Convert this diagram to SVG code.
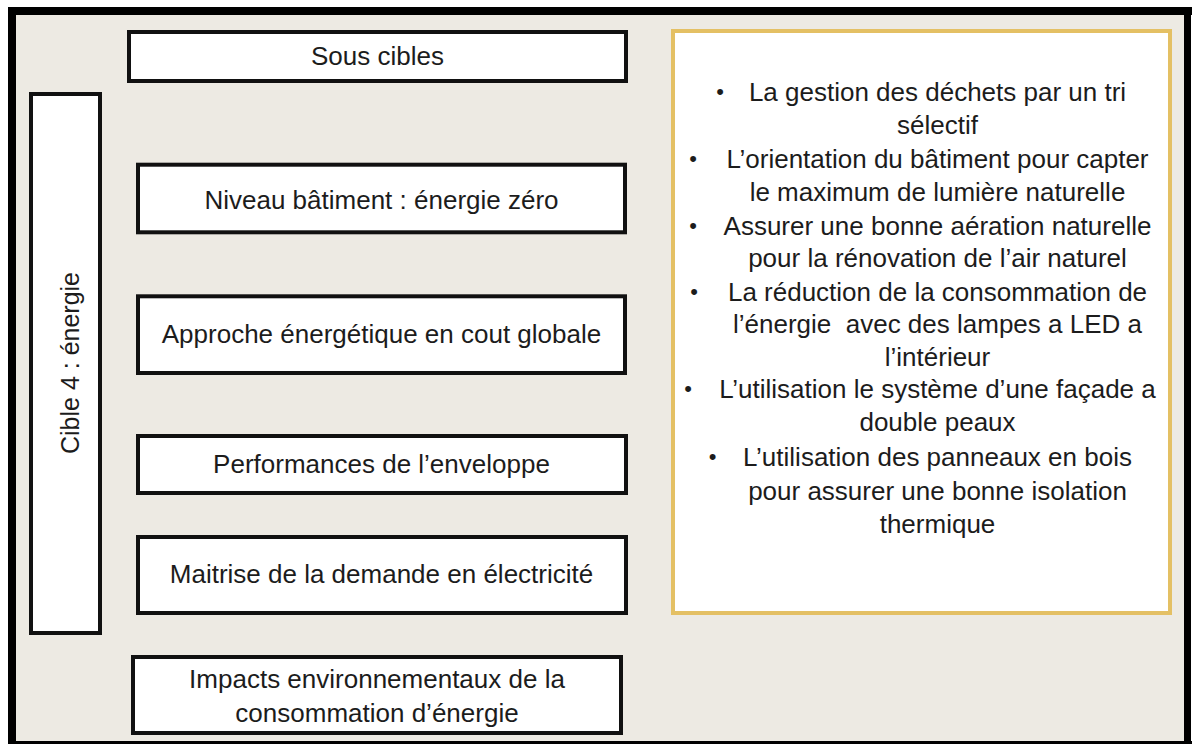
<svg xmlns="http://www.w3.org/2000/svg" width="1192" height="744" viewBox="0 0 1192 744">
<style>
.t{font-family:"Liberation Sans",Arial,sans-serif;font-size:26px;fill:#1c1c1c;text-anchor:middle}
.b{font-family:"Liberation Sans",Arial,sans-serif;font-size:22px;fill:#1c1c1c;text-anchor:middle}
.box{fill:#ffffff;stroke:#111111;stroke-width:4}
.gold{fill:#ffffff;stroke:#E4C064;stroke-width:4}
</style>
<rect x="0" y="0" width="1192" height="744" fill="#ffffff"/>
<g id="frame">
<rect x="8" y="7" width="1182" height="736" fill="#EDEAE3"/>
<rect x="8" y="7" width="1184" height="8" fill="#000"/>
<rect x="8" y="7" width="8" height="737" fill="#000"/>
<rect x="1184" y="7" width="7" height="735" fill="#000"/>
<rect x="8" y="741" width="1184" height="3" fill="#000"/>
</g>
<g id="sous-cibles">
<rect class="box" x="129" y="32" width="497" height="49"/>
<text class="t" x="377.5" y="65">Sous cibles</text>
</g>
<g id="cible4">
<rect class="box" x="31" y="94" width="69" height="539"/>
<text class="t" font-size="25" transform="translate(79,363) rotate(-90)" style="font-size:25px">Cible 4 : énergie</text>
</g>
<g id="niveau">
<rect class="box" x="138" y="164.7" width="487" height="67.6"/>
<text class="t" x="381.5" y="209">Niveau bâtiment : énergie zéro</text>
</g>
<g id="approche">
<rect class="box" x="138" y="296.3" width="487" height="76.7"/>
<text class="t" x="381.5" y="343">Approche énergétique en cout globale</text>
</g>
<g id="performances">
<rect class="box" x="138" y="436" width="488" height="57"/>
<text class="t" x="381.5" y="473">Performances de l’enveloppe</text>
</g>
<g id="maitrise">
<rect class="box" x="138" y="537" width="488" height="76"/>
<text class="t" x="381.5" y="583">Maitrise de la demande en électricité</text>
</g>
<g id="impacts">
<rect class="box" x="133" y="657" width="488" height="76"/>
<text class="t" x="377" y="688">Impacts environnementaux de la</text>
<text class="t" x="377" y="722">consommation d’énergie</text>
</g>
<g id="actions">
<rect class="gold" x="673" y="31" width="497" height="582"/>
<text class="b" x="720" y="99">•</text>
<text class="t" x="937.5" y="101">La gestion des déchets par un tri</text>
<text class="t" x="937.5" y="134">sélectif</text>
<text class="b" x="693" y="166">•</text>
<text class="t" x="937.5" y="168">L’orientation du bâtiment pour capter</text>
<text class="t" x="937.5" y="201">le maximum de lumière naturelle</text>
<text class="b" x="693" y="233">•</text>
<text class="t" x="937.5" y="235">Assurer une bonne aération naturelle</text>
<text class="t" x="937.5" y="267">pour la rénovation de l’air naturel</text>
<text class="b" x="694" y="299">•</text>
<text class="t" x="937.5" y="301">La réduction de la consommation de</text>
<text class="t" x="937.5" y="333" xml:space="preserve">l’énergie  avec des lampes a LED a</text>
<text class="t" x="937.5" y="366">l’intérieur</text>
<text class="b" x="688" y="396">•</text>
<text class="t" x="937.5" y="398">L’utilisation le système d’une façade a</text>
<text class="t" x="937.5" y="431">double peaux</text>
<text class="b" x="712.5" y="464">•</text>
<text class="t" x="937.5" y="466">L’utilisation des panneaux en bois</text>
<text class="t" x="937.5" y="500">pour assurer une bonne isolation</text>
<text class="t" x="937.5" y="533">thermique</text>
</g>
</svg>
